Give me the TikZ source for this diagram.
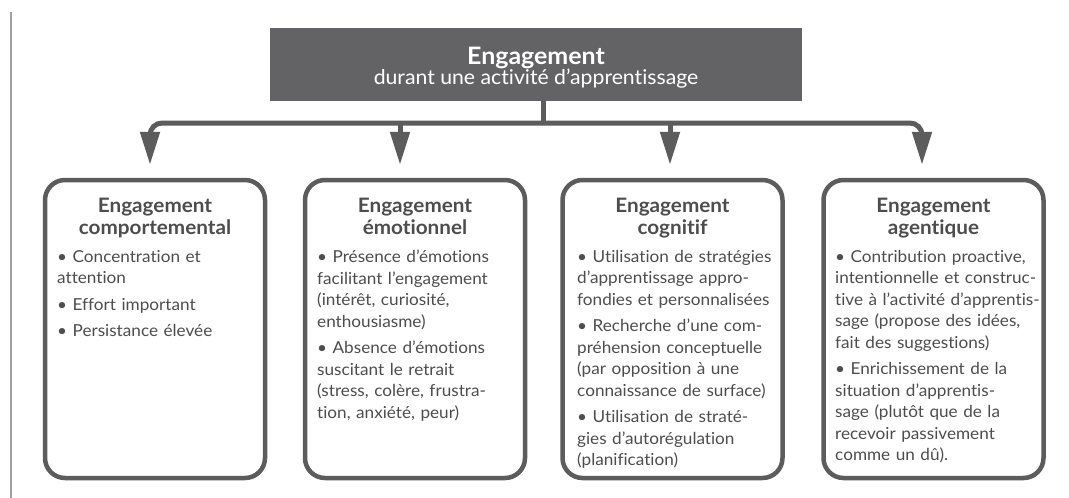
\documentclass[tikz,border=0pt]{standalone}
\usepackage{fontspec}
\setmainfont{Lato}[FakeStretch=1.04,Ligatures=NoCommon]
\usetikzlibrary{arrows.meta,calc}
\definecolor{dk}{HTML}{636365}
\definecolor{ln}{HTML}{5C5C5C}
\definecolor{tx}{HTML}{4D4D4D}
\definecolor{rule}{HTML}{A0A0A0}
\begin{document}
\begin{tikzpicture}[x=1pt,y=-1pt,
  card/.style={draw=ln, line width=4.5pt, rounded corners=20pt, minimum width=220pt, minimum height=298pt, inner sep=0pt},
  head/.style={anchor=north, align=center, inner sep=0pt, text=tx, font=\bfseries\fontsize{19.9}{22}\selectfont},
  body/.style={anchor=north west, align=left, inner sep=0pt, text=tx, text width=230pt, font=\fontsize{16.5}{21.5}\selectfont},
  conn/.style={draw=ln, line width=5pt},
  arr/.style={-{Triangle[width=19pt,length=33pt]}, shorten >=13pt}]
\useasboundingbox (0,0) rectangle (1069,498);
\fill[white] (0,0) rectangle (1069,498);
\draw[rule, line width=2.5pt] (11,12) -- (11,498);

\node[fill=dk, minimum width=532pt, minimum height=73pt, inner sep=0pt] (top) at (536,64.5) {};
\node[text=white, align=center, inner sep=0pt] (tt) at ($(top.center)+(0,3)$)
  {{\bfseries\fontsize{24}{25}\selectfont Engagement}\\[-1pt]{\fontsize{20.4}{23}\selectfont durant une activité d’apprentissage}};

\node[card] (b1) at (155,329) {};
\node[card] (b2) at (415,329) {};
\node[card] (b3) at (672.5,329) {};
\node[card] (b4) at (933.5,329) {};

\node[head] (h1) at ($(b1.north)+(0,20)$) {Engagement\\comportemental};
\node[head] (h2) at ($(b2.north)+(0,20)$) {Engagement\\émotionnel};
\node[head] (h3) at ($(b3.north)+(0,20)$) {Engagement\\cognitif};
\node[head] (h4) at ($(b4.north)+(0,20)$) {Engagement\\agentique};

\node[body] (l1) at (57,250) {• Concentration et\\attention\\[5pt]• Effort important\\[5pt]• Persistance élevée};
\node[body] (l2) at (317,250) {• Présence d’émotions\\facilitant l’engagement\\(intérêt, curiosité,\\enthousiasme)\\[5pt]• Absence d’émotions\\suscitant le retrait\\(stress, colère, frustra-\\tion, anxiété, peur)};
\node[body] (l3) at (577,250) {• Utilisation de stratégies\\d’apprentissage appro-\\fondies et personnalisées\\[5pt]• Recherche d’une com-\\préhension conceptuelle\\(par opposition à une\\connaissance de surface)\\[5pt]• Utilisation de straté-\\gies d’autorégulation\\(planification)};
\node[body] (l4) at (835,250) {• Contribution proactive,\\intentionnelle et construc-\\tive à l’activité d’apprentis-\\sage (propose des idées,\\fait des suggestions)\\[5pt]• Enrichissement de la\\situation d’apprentis-\\sage (plutôt que de la\\recevoir passivement\\comme un dû).};

\coordinate (bus) at (543,123);
\coordinate (e1) at (150,0);
\coordinate (e2) at (400,0);
\coordinate (e3) at (670,0);
\coordinate (e4) at (922,0);
\draw[conn] (top.south -| bus) -- (bus);
\draw[conn, arr, rounded corners=12pt] (bus) -| (b1.north -| e1);
\draw[conn, arr] (bus -| e2) -- (b2.north -| e2);
\draw[conn, arr] (bus -| e3) -- (b3.north -| e3);
\draw[conn, arr, rounded corners=12pt] (bus) -| (b4.north -| e4);
\end{tikzpicture}
\end{document}
